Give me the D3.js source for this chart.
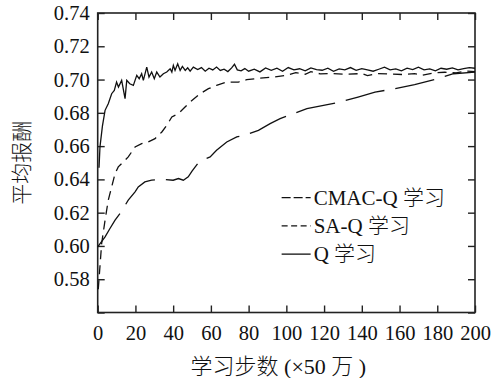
<!DOCTYPE html>
<html>
<head>
<meta charset="utf-8">
<script src="https://cdn.jsdelivr.net/npm/d3@7"></script>
<style>
  body { margin: 0; background: #fff; }
  text { fill: #111; }
</style>
</head>
<body>
<div id="chart"></div>
<script>
// Q learning (solid, top curve)
const stepsQ = [0.7, 1.2, 2.5, 3.9, 5.6, 7.4, 8.8, 10, 11, 12.7, 14.5, 15.4, 17, 18.9, 20.7, 22, 23.3, 24.2, 26, 27.2,
  28.6, 30, 31.3, 33, 34.8, 36.6, 38.4, 39.3, 40.1, 41, 42.4, 43.7, 44.9, 46.4, 47.7, 49, 50.7, 53, 55, 57,
  59, 61, 63, 65, 67, 69, 71, 72.5, 74, 76, 78, 80, 83, 86, 89, 92, 95, 98, 101, 104,
  107, 110, 113, 116, 119, 122, 125, 128, 131, 134, 137, 140, 143, 146, 149, 152, 155, 158, 161, 164,
  167, 170, 173, 176, 179, 182, 185, 188, 191, 194, 197, 200];
const rewardQ = [0.647, 0.6595, 0.672, 0.6815, 0.6855, 0.6915, 0.6935, 0.6985, 0.6955, 0.6995, 0.6885, 0.6995, 0.6975, 0.6965, 0.7025, 0.7005, 0.7035, 0.6995, 0.7075, 0.7015,
  0.7045, 0.7005, 0.7045, 0.7015, 0.7035, 0.7045, 0.7065, 0.7045, 0.7085, 0.7055, 0.7095, 0.7055, 0.7079, 0.7055, 0.7071, 0.7051, 0.7075, 0.7060, 0.7072, 0.7050,
  0.7068, 0.7058, 0.7075, 0.7055, 0.7062, 0.7048, 0.7070, 0.7092, 0.7058, 0.7052, 0.7066, 0.7050, 0.7062, 0.7046, 0.7070, 0.7055, 0.7068, 0.7050, 0.7072, 0.7058,
  0.7065, 0.7052, 0.7070, 0.7060, 0.7056, 0.7068, 0.7050, 0.7064, 0.7058, 0.7072, 0.7055, 0.7066, 0.7058, 0.7050, 0.7062, 0.7074, 0.7058, 0.7064, 0.7052, 0.7068,
  0.7060, 0.7074, 0.7058, 0.7064, 0.7052, 0.7068, 0.7062, 0.7070, 0.7058, 0.7066, 0.7072, 0.7068];

// SA-Q learning (short dashes, middle curve)
const stepsSA = [0.3, 2.1, 3.9, 5.6, 7.4, 9.2, 10.9, 13.6, 16.2, 19.8, 23.3, 26.8, 30.4, 34, 36.6, 39.3, 42.8, 46.3, 49, 54.3,
  58.7, 63, 68.4, 74.6, 79, 86, 93, 100, 105, 110, 113, 118, 125, 132, 140, 143, 148, 155, 162, 168,
  172, 178, 184, 190, 195, 200];
const rewardSA = [0.574, 0.6015, 0.6155, 0.6275, 0.6355, 0.6435, 0.6475, 0.6505, 0.6535, 0.6595, 0.6615, 0.6625, 0.6645, 0.6685, 0.6725, 0.6775, 0.6795, 0.6835, 0.6865, 0.6915,
  0.6945, 0.6965, 0.6985, 0.6985, 0.6999, 0.7009, 0.7015, 0.7025, 0.7042, 0.7032, 0.7048, 0.7034, 0.7036, 0.7032, 0.7036, 0.7024, 0.7036, 0.7034, 0.7030, 0.7036,
  0.7026, 0.7040, 0.7044, 0.7040, 0.7052, 0.7048];

// CMAC-Q learning (long dashes, bottom curve)
const stepsCMAC = [0, 3.9, 6.5, 9.2, 11.8, 16.2, 19.8, 21.5, 25, 28.6, 34, 40, 42.8, 45.4, 48, 50, 52, 54, 59.6, 63,
  68.4, 73.7, 78, 85.2, 91.4, 96.7, 103.8, 110.9, 119.7, 128.5, 138, 147, 157.7, 168, 180, 188.6, 200];
const rewardCMAC = [0.5995, 0.6055, 0.6105, 0.6155, 0.6195, 0.6275, 0.6325, 0.6355, 0.6385, 0.6395, 0.6401, 0.6395, 0.6405, 0.6395, 0.6415, 0.645, 0.648, 0.651, 0.6535, 0.6575,
  0.6625, 0.6655, 0.6665, 0.6695, 0.6735, 0.6765, 0.6795, 0.6825, 0.6845, 0.6865, 0.6895, 0.6925, 0.6945, 0.697, 0.7005, 0.7035, 0.7045];

const xTicks = [0, 20, 40, 60, 80, 100, 120, 140, 160, 180, 200];
const yTicks = [0.56, 0.58, 0.60, 0.62, 0.64, 0.66, 0.68, 0.70, 0.72, 0.74];
const legendLabels = ["CMAC-Q 学习", "SA-Q 学习", "Q 学习"];

const totalWidth = 494, totalHeight = 378;
const margin = {top: 13, right: 19, bottom: 65.5, left: 97.7};
const width = totalWidth - margin.left - margin.right;
const height = totalHeight - margin.top - margin.bottom;
const numFont = "'Liberation Serif', 'Times New Roman', serif";
const cjkFont = "'Liberation Serif', 'Noto Sans CJK SC', serif";

const svg = d3.select("#chart")
    .append("svg")
    .attr("width", totalWidth)
    .attr("height", totalHeight)
    .append("g")
    .attr("transform", `translate(${margin.left},${margin.top})`);

const x = d3.scaleLinear().domain([0, 200]).range([0, width]);
const y = d3.scaleLinear().domain([0.56, 0.74]).range([height, 0]);

// axes with inward ticks on all four sides
svg.append("g")
    .attr("transform", `translate(0,${height})`)
    .call(d3.axisBottom(x).tickValues(xTicks).tickSize(-7).tickSizeOuter(0).tickPadding(13).tickFormat(d3.format("d")));
svg.append("g")
    .call(d3.axisLeft(y).tickValues(yTicks).tickSize(-7).tickSizeOuter(0).tickPadding(8)
        .tickFormat(d => d === 0.56 ? "" : d3.format(".2f")(d)));
svg.append("g")
    .call(d3.axisTop(x).tickValues(xTicks).tickSize(-7).tickSizeOuter(0).tickFormat(""));
svg.append("g")
    .attr("transform", `translate(${width},0)`)
    .call(d3.axisRight(y).tickValues(yTicks).tickSize(-7).tickSizeOuter(0).tickFormat(""));

svg.selectAll(".domain").remove();
svg.selectAll(".tick line").style("stroke", "#222").style("stroke-width", 1.4);
svg.selectAll(".tick text")
    .style("font-family", numFont)
    .style("font-size", "20.5px")
    .style("fill", "#111");

svg.append("rect")
    .attr("width", width)
    .attr("height", height)
    .style("fill", "none")
    .style("stroke", "#222")
    .style("stroke-width", 1.6);

const line = d3.line()
    .x(d => x(d[0]))
    .y(d => y(d[1]));

const series = [
    {steps: stepsCMAC, reward: rewardCMAC, dash: "40,11"},
    {steps: stepsSA, reward: rewardSA, dash: "9,6"},
    {steps: stepsQ, reward: rewardQ, dash: null}
];

series.forEach(s => {
    svg.append("path")
        .datum(d3.zip(s.steps, s.reward))
        .attr("d", line)
        .style("fill", "none")
        .style("stroke", "#111")
        .style("stroke-width", 1.3)
        .style("stroke-dasharray", s.dash);
});

// legend
const legendDash = ["9,3", "6,3.5", null];
const legend = svg.append("g").attr("transform", `translate(${x(97.5)},${y(0.6291)})`);
legendLabels.forEach((label, i) => {
    const row = legend.append("g").attr("transform", `translate(0,${i * 28.3})`);
    row.append("line")
        .attr("x1", 0).attr("x2", 29)
        .style("stroke", "#111")
        .style("stroke-width", 1.3)
        .style("stroke-dasharray", legendDash[i]);
    row.append("text")
        .attr("x", 32)
        .attr("dy", "0.35em")
        .style("font-family", cjkFont)
        .style("font-size", "21px")
        .style("font-weight", 300)
        .text(label);
});

// axis titles
svg.append("text")
    .attr("x", x(100) - 8)
    .attr("y", height + 61)
    .attr("text-anchor", "middle")
    .style("font-family", cjkFont)
    .style("font-size", "22px")
    .style("font-weight", 300)
    .text("学习步数 (×50 万 )");

svg.append("text")
    .attr("transform", `translate(${22 - margin.left},${height / 2}) rotate(-90)`)
    .attr("text-anchor", "middle")
    .attr("dy", "0.35em")
    .style("font-family", cjkFont)
    .style("font-size", "21px")
    .style("font-weight", 300)
    .text("平均报酬");
</script>
</body>
</html>
